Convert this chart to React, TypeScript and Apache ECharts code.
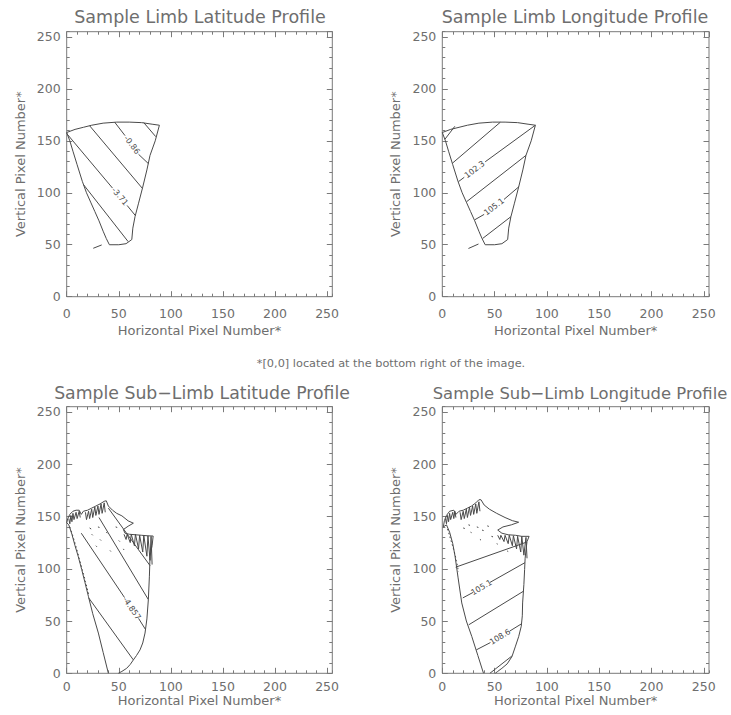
import React, { useEffect, useRef } from 'react';
import * as echarts from 'echarts';

// ---------- Axis / text data ----------
const AXIS_MIN = 0;
const AXIS_MAX = 255;
const MAJOR_STEP = 50;
const MINOR_STEP = 10;

const PANEL_TITLES = [
  'Sample Limb Latitude Profile',
  'Sample Limb Longitude Profile',
  'Sample Sub\u2212Limb Latitude Profile',
  'Sample Sub\u2212Limb Longitude Profile',
];
const X_AXIS_NAME = 'Horizontal Pixel Number*';
const Y_AXIS_NAME = 'Vertical Pixel Number*';
const FOOTNOTE = '*[0,0] located at the bottom right of the image.';

// ---------- Limb panels (top row) : [x, y] in pixel units ----------
const LIMB_OUTLINE = [
  [0, 158], [8, 161], [16, 163], [24, 165], [35, 167], [48, 168], [60, 168], [72, 167.5], [82, 166], [89, 165],
  [85, 150], [80, 136], [77, 122], [73, 105.5], [69, 90], [65.6, 77], [63.5, 66], [62.5, 55], [57, 51], [50, 50], [41, 50],
  [38, 56], [35, 63], [31, 73], [27, 82], [23, 91], [19, 100], [15, 111], [10, 127], [6, 140], [3, 150], [0, 158],
];
const LIMB_LAT_CONTOURS = [
  [[74, 167.5], [85.5, 154]],
  [[46, 168], [56, 155]],
  [[69, 137], [78.5, 128]],
  [[22, 164.5], [72.6, 104.3]],
  [[0, 157], [44, 104.5]],
  [[58, 87.8], [66, 78]],
  [[16.4, 107.5], [59, 53]],
  [[25.5, 46.6], [33.6, 49.8]],
];
const LIMB_LAT_LABELS = [
  { text: '-0.86', at: [62.5, 146], rotate: -53 },
  { text: '-3.71', at: [51, 96.4], rotate: -50 },
];
const LIMB_LON_CONTOURS = [
  [[2.5, 151.5], [12, 164]],
  [[9.6, 128.4], [55.4, 167.8]],
  [[15.4, 110.7], [21, 114.9]],
  [[41, 129.8], [89, 165]],
  [[23.2, 91.4], [80, 136]],
  [[31, 74], [40, 79.2]],
  [[59, 93.6], [73.3, 105.9]],
  [[38.5, 56], [65.6, 77]],
  [[25, 46.4], [34.6, 50.7]],
];
const LIMB_LON_LABELS = [
  { text: '102.3', at: [31, 122.3], rotate: 37 },
  { text: '105.1', at: [49.5, 86.4], rotate: 37.6 },
];

// ---------- Sub-limb panels (bottom row) ----------
const SUB_LAT_OUTLINE = [
  [40, 0], [35, 20], [30.4, 38.5], [25, 57], [20.8, 73.7], [17.5, 87], [14.4, 99.3], [11, 112], [8, 122], [5, 133], [2, 142], [0, 144],
  [1, 148], [3, 152], [6, 155], [9, 156], [12, 156], [14, 152], [16, 155], [20, 156], [24, 158], [28, 160], [32, 162], [36, 164.5], [38, 165],
  [40, 160], [44, 156], [48, 153], [53, 150.6], [59, 145.8], [64, 143.6], [59, 140.7], [54.4, 137.5], [56, 134], [60, 133], [66, 132.5],
  [72, 132], [78, 131.5], [83, 131.3], [82, 122], [80, 112], [79.4, 92.9], [78.4, 70.5], [77, 52], [75.2, 38.5], [73, 29], [70.4, 22.4],
  [67, 17], [64, 12.8], [61, 8.5], [57.6, 4.8], [53, 1.8], [49.6, 0],
];
const SUB_LAT_RIPPLE = [
  [55, 133], [57, 128], [58, 133], [61, 125], [62, 133], [65, 122], [66, 133], [69, 119], [70, 132], [73, 116], [74, 132], [77, 112],
  [78, 131.5], [80, 108], [81, 131], [82, 104],
];
const SUB_LAT_HATCH = [
  [[2, 148], [3, 143], [4, 151], [5, 145], [6, 153], [7, 147], [9, 154], [10, 148], [12, 155], [13, 149]],
  [[18, 154], [19, 147], [21, 155], [22, 148], [24, 157], [25, 149], [27, 159], [28, 151], [30, 160], [31, 152], [33, 162], [34, 153], [36, 163], [37, 154]],
];
const SUB_LAT_SPECKS = [
  [[22, 139], [23.5, 138]], [[24, 133], [25, 132]], [[30, 140], [31.5, 139.5]], [[32, 128], [33, 127]], [[38, 135], [39, 134]],
  [[41.6, 117.5], [42.4, 116.5]], [[47, 140], [48.5, 139.5]], [[50, 127], [51, 126]], [[54.4, 119], [55, 118]], [[28, 122], [29, 121]],
];
const SUB_LAT_EDGE_DOTS = [[3, 140], [6, 131], [9, 121], [12, 110], [15, 99], [18, 88], [21, 76]];
const SUB_LAT_CONTOURS = [
  [[21.2, 72], [64, 12.8]],
  [[14, 134], [55.5, 72.5]],
  [[69, 52.5], [75.6, 42]],
  [[31, 149], [78.4, 70.5]],
  [[40, 158], [80, 103]],
];
const SUB_LAT_LABELS = [{ text: '-4.857', at: [62.4, 62], rotate: -56 }];

const SUB_LON_OUTLINE = [
  [39.4, 0], [34, 17], [28.2, 35.2], [23, 50], [18.6, 67.3], [15, 92], [12.2, 112], [10, 124], [7, 135], [4, 142], [1, 140],
  [2, 146], [4, 151], [7, 155], [11, 156], [13, 152], [16, 155], [20, 156], [24, 158], [28, 160], [32, 163], [35, 166], [37, 166],
  [40, 161], [45, 157], [52, 153], [60, 149], [67, 146], [73, 144.5], [66, 142], [58, 140], [53, 137], [57, 134], [63, 132.5], [70, 132],
  [76, 131], [83, 131], [81, 126], [80, 118], [79.2, 110], [78.7, 99.3], [78, 85], [76.8, 67.3], [76.5, 55], [75.5, 45], [73, 35],
  [70, 26], [66.6, 16], [62, 9], [57, 4.8], [53, 1.8], [50.6, 0],
];
const SUB_LON_RIPPLE = [
  [53, 132], [55, 128], [56, 132], [59, 126], [60, 132], [63, 124], [64, 132], [67, 122], [68, 131.5], [71, 119], [72, 131], [75, 116],
  [76, 131], [78, 113], [80, 130], [81, 110],
];
const SUB_LON_HATCH = [
  [[3, 148], [4, 143], [5, 151], [6, 145], [7, 153], [8, 147], [10, 154], [11, 148], [12, 155], [13, 149]],
  [[17, 154], [18, 147], [20, 155], [21, 148], [23, 157], [24, 149], [26, 159], [27, 151], [29, 160], [30, 152], [32, 162], [33, 153], [35, 164], [36, 155]],
];
const SUB_LON_SPECKS = [
  [[20, 139], [21.5, 138.5]], [[25, 142], [26.5, 141.5]], [[27, 135], [28, 134.5]], [[33, 140], [34.5, 139.5]], [[38, 137], [39.5, 136.5]],
  [[43, 141], [44.5, 140.5]], [[47, 131], [48.5, 130.5]], [[36, 128], [37, 127.5]], [[62, 117], [63, 116.5]], [[52, 124], [53, 123.5]],
];
const SUB_LON_EDGE_DOTS = [[5, 138], [8, 128], [11, 118], [13.5, 108], [15.5, 97]];
const SUB_LON_CONTOURS = [
  [[12.8, 101.5], [80.7, 125.5]],
  [[19.6, 72.1], [29.5, 77.4]],
  [[45.5, 86.9], [79, 105.8]],
  [[25.3, 46.4], [77.6, 78.5]],
  [[32.5, 22.4], [46, 29.4]],
  [[64.5, 40.4], [76, 47.5]],
  [[45.5, 0], [66.5, 16.5]],
];
const SUB_LON_LABELS = [
  { text: '105.1', at: [37.5, 82], rotate: 30 },
  { text: '108.6', at: [55.3, 34.8], rotate: 31 },
];

// ---------- Styling / layout ----------
const FONT = '"DejaVu Sans", sans-serif';
const TEXT_COLOR = '#6e6e6e';
const BOX_COLOR = '#7a7a7a';
const INK = '#4a4a4a';

const PANELS = [
  {
    title: PANEL_TITLES[0], titleX: 200, titleY: 17, titleSize: 17.5,
    grid: { left: 66.7, top: 31.7, width: 265.6, height: 265 },
    xLabelMargin: 10, xNameGap: 27,
    paths: [LIMB_OUTLINE, ...LIMB_LAT_CONTOURS], dotted: [] as number[][][], labels: LIMB_LAT_LABELS,
  },
  {
    title: PANEL_TITLES[1], titleX: 575, titleY: 17, titleSize: 17.5,
    grid: { left: 442.3, top: 31.7, width: 266.7, height: 265 },
    xLabelMargin: 10, xNameGap: 27,
    paths: [LIMB_OUTLINE, ...LIMB_LON_CONTOURS], dotted: [] as number[][][], labels: LIMB_LON_LABELS,
  },
  {
    title: PANEL_TITLES[2], titleX: 202, titleY: 393, titleSize: 17.3,
    grid: { left: 66.7, top: 406.7, width: 265.6, height: 266.6 },
    xLabelMargin: 6.5, xNameGap: 19,
    paths: [SUB_LAT_OUTLINE, SUB_LAT_RIPPLE, ...SUB_LAT_HATCH, ...SUB_LAT_SPECKS, ...SUB_LAT_CONTOURS],
    dotted: [SUB_LAT_EDGE_DOTS], labels: SUB_LAT_LABELS,
  },
  {
    title: PANEL_TITLES[3], titleX: 580, titleY: 393, titleSize: 16.4,
    grid: { left: 442.3, top: 406.7, width: 266.7, height: 266.6 },
    xLabelMargin: 6.5, xNameGap: 19,
    paths: [SUB_LON_OUTLINE, SUB_LON_RIPPLE, ...SUB_LON_HATCH, ...SUB_LON_SPECKS, ...SUB_LON_CONTOURS],
    dotted: [SUB_LON_EDGE_DOTS], labels: SUB_LON_LABELS,
  },
];

function axisSet(dim: 'x' | 'y', gi: number, p: (typeof PANELS)[number]) {
  const base = {
    type: 'value',
    gridIndex: gi,
    min: AXIS_MIN,
    max: AXIS_MAX,
    axisLine: { show: false, onZero: false },
    splitLine: { show: false },
  };
  const major = { show: true, inside: true, length: 5.5, lineStyle: { color: BOX_COLOR, width: 1 } };
  const minor = { show: true, inside: true, length: 3, lineStyle: { color: BOX_COLOR, width: 1 } };
  const pos = dim === 'x' ? ['bottom', 'top'] : ['left', 'right'];
  const labelStyle =
    dim === 'x'
      ? { show: true, color: TEXT_COLOR, fontSize: 12.5, fontFamily: FONT, margin: p.xLabelMargin, showMaxLabel: false }
      : { show: true, color: TEXT_COLOR, fontSize: 12.5, fontFamily: FONT, margin: 6, padding: [0, 0, 8, 0], showMaxLabel: false };
  return [
    {
      ...base,
      position: pos[0],
      interval: MAJOR_STEP,
      axisTick: major,
      axisLabel: labelStyle,
      name: dim === 'x' ? X_AXIS_NAME : Y_AXIS_NAME,
      nameLocation: 'middle',
      nameGap: dim === 'x' ? p.xNameGap : 40,
      nameTextStyle: { color: TEXT_COLOR, fontSize: 13, fontFamily: FONT },
    },
    { ...base, position: pos[0], interval: MINOR_STEP, axisTick: minor, axisLabel: { show: false } },
    { ...base, position: pos[1], interval: MAJOR_STEP, axisTick: major, axisLabel: { show: false } },
    { ...base, position: pos[1], interval: MINOR_STEP, axisTick: minor, axisLabel: { show: false } },
  ];
}

function buildOption() {
  const grid: any[] = [];
  const xAxis: any[] = [];
  const yAxis: any[] = [];
  const series: any[] = [];
  const graphic: any[] = [];

  PANELS.forEach((p, i) => {
    grid.push({ ...p.grid, show: true, borderColor: BOX_COLOR, borderWidth: 1, backgroundColor: 'transparent', containLabel: false });
    xAxis.push(...axisSet('x', i, p));
    yAxis.push(...axisSet('y', i, p));
    const ax = i * 4;
    series.push({
      type: 'lines',
      coordinateSystem: 'cartesian2d',
      xAxisIndex: ax,
      yAxisIndex: ax,
      polyline: true,
      silent: true,
      lineStyle: { color: INK, width: 1, opacity: 1 },
      data: p.paths.map((coords) => ({ coords })),
    });
    if (p.dotted.length) {
      series.push({
        type: 'lines',
        coordinateSystem: 'cartesian2d',
        xAxisIndex: ax,
        yAxisIndex: ax,
        polyline: true,
        silent: true,
        lineStyle: { color: INK, width: 1, opacity: 1, type: [1.5, 2.5] },
        data: p.dotted.map((coords) => ({ coords })),
      });
    }
    const labels = p.labels;
    series.push({
      type: 'custom',
      coordinateSystem: 'cartesian2d',
      xAxisIndex: ax,
      yAxisIndex: ax,
      silent: true,
      data: labels.map((l) => l.at),
      renderItem: (params: any, api: any) => {
        const l = labels[params.dataIndex];
        const pt = api.coord([api.value(0), api.value(1)]);
        return {
          type: 'text',
          x: pt[0],
          y: pt[1],
          rotation: (l.rotate * Math.PI) / 180,
          style: {
            text: l.text,
            fill: INK,
            font: `8px ${FONT}`,
            align: 'center',
            verticalAlign: 'middle',
            textAlign: 'center',
            textVerticalAlign: 'middle',
          },
        };
      },
    });
    graphic.push({
      type: 'text',
      x: p.titleX,
      y: p.titleY,
      silent: true,
      style: {
        text: p.title,
        fill: TEXT_COLOR,
        font: `${p.titleSize}px ${FONT}`,
        textAlign: 'center',
        textVerticalAlign: 'middle',
        align: 'center',
        verticalAlign: 'middle',
      },
    });
  });

  graphic.push({
    type: 'text',
    x: 391,
    y: 363,
    silent: true,
    style: {
      text: FOOTNOTE,
      fill: TEXT_COLOR,
      font: `11.3px ${FONT}`,
      textAlign: 'center',
      textVerticalAlign: 'middle',
      align: 'center',
      verticalAlign: 'middle',
    },
  });

  return {
    animation: false,
    backgroundColor: '#ffffff',
    grid,
    xAxis,
    yAxis,
    series,
    graphic,
  };
}

export default function App() {
  const ref = useRef<HTMLDivElement>(null);
  useEffect(() => {
    if (!ref.current) return;
    const chart = echarts.init(ref.current, undefined, { renderer: 'svg' });
    chart.setOption(buildOption() as any);
    return () => chart.dispose();
  }, []);
  return (
    <div
      ref={ref}
      style={{ position: 'absolute', left: 0, top: 0, width: 731, height: 715, background: '#fff' }}
    />
  );
}
